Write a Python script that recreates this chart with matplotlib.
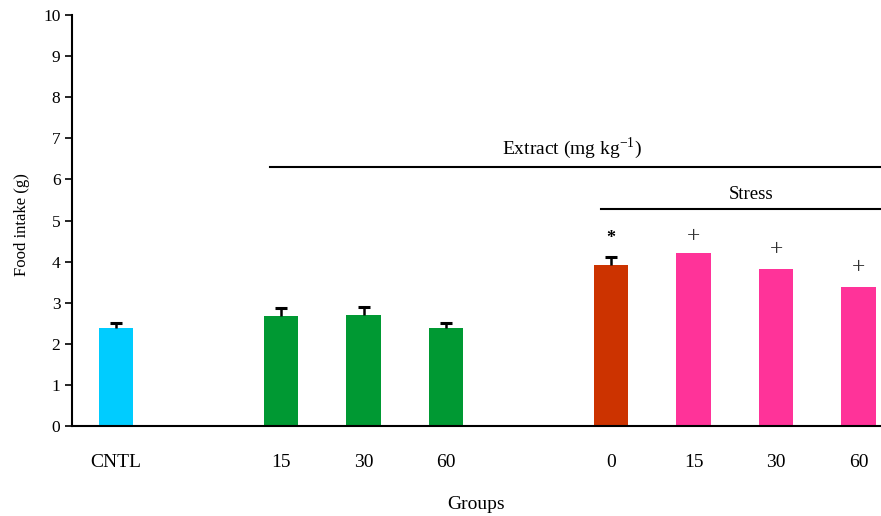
import numpy as np
import matplotlib
matplotlib.use('Agg')
import matplotlib.pyplot as plt

plt.rcParams['font.family'] = ['Liberation Serif', 'DejaVu Serif']
plt.rcParams['mathtext.fontset'] = 'custom'
plt.rcParams['mathtext.rm'] = 'Liberation Serif'

# data
groups = ['CNTL', '15', '30', '60', '0', '15', '30', '60']
slots = [0, 2, 3, 4, 6, 7, 8, 9]
food = [2.38, 2.67, 2.70, 2.38, 3.92, 4.20, 3.82, 3.38]
err = [0.12, 0.20, 0.20, 0.12, 0.19, 0, 0, 0]
colors = ['#00CCFF', '#009933', '#009933', '#009933', '#CC3300', '#FF3399', '#FF3399', '#FF3399']
marks = ['', '', '', '', '*', '+', '+', '+']
mark_y = [0, 0, 0, 0, 4.57, 4.60, 4.30, 3.87]

fig = plt.figure(figsize=(8.81, 5.16), dpi=100)
ax = fig.add_axes([0.082, 0.174, 0.917, 0.797])

ax.bar(slots, food, width=0.42, color=colors, zorder=2)

# only upper half of the error bars, with a cap
for x, y, e in zip(slots, food, err):
    if e > 0:
        ax.vlines(x, y, y + e, color='black', lw=1.8, zorder=3)
        ax.plot(x, y + e, marker='_', markersize=8, mew=2.2, color='black', zorder=3)

for x, m, y in zip(slots, marks, mark_y):
    if m == '*':
        ax.text(x, y, m, ha='center', va='center', fontsize=13, fontweight='bold')
    elif m == '+':
        ax.text(x, y, m, ha='center', va='center', fontsize=17, color='#333333')

ax.set_xlim(-0.53, 9.26)
ax.set_ylim(0, 10)
ax.set_yticks(range(0, 11))
ax.set_xticks(slots)
ax.set_xticklabels(groups)
ax.tick_params(axis='x', length=0, pad=20, labelsize=14)
ax.tick_params(axis='y', direction='out', length=5, width=1.2, labelsize=12.5)
ax.spines['top'].set_visible(False)
ax.spines['right'].set_visible(False)
ax.spines['left'].set_linewidth(1.5)
ax.spines['bottom'].set_linewidth(1.5)

ax.set_ylabel('Food intake (g)', fontsize=12)
ax.yaxis.set_label_coords(-0.052, 0.49)
ax.set_xlabel('Groups', fontsize=14, labelpad=18)

# group lines
ax.plot([1.87, 9.26], [6.3, 6.3], color='black', lw=1.5, clip_on=False)
ax.text(5.53, 6.45, r'Extract (mg kg$^{\mathregular{-1}}$)', ha='center', va='bottom', fontsize=14)
ax.plot([5.88, 9.26], [5.28, 5.28], color='black', lw=1.5, clip_on=False)
ax.text(7.7, 5.43, 'Stress', ha='center', va='bottom', fontsize=13.5)

fig.savefig('out.png', dpi=100)
